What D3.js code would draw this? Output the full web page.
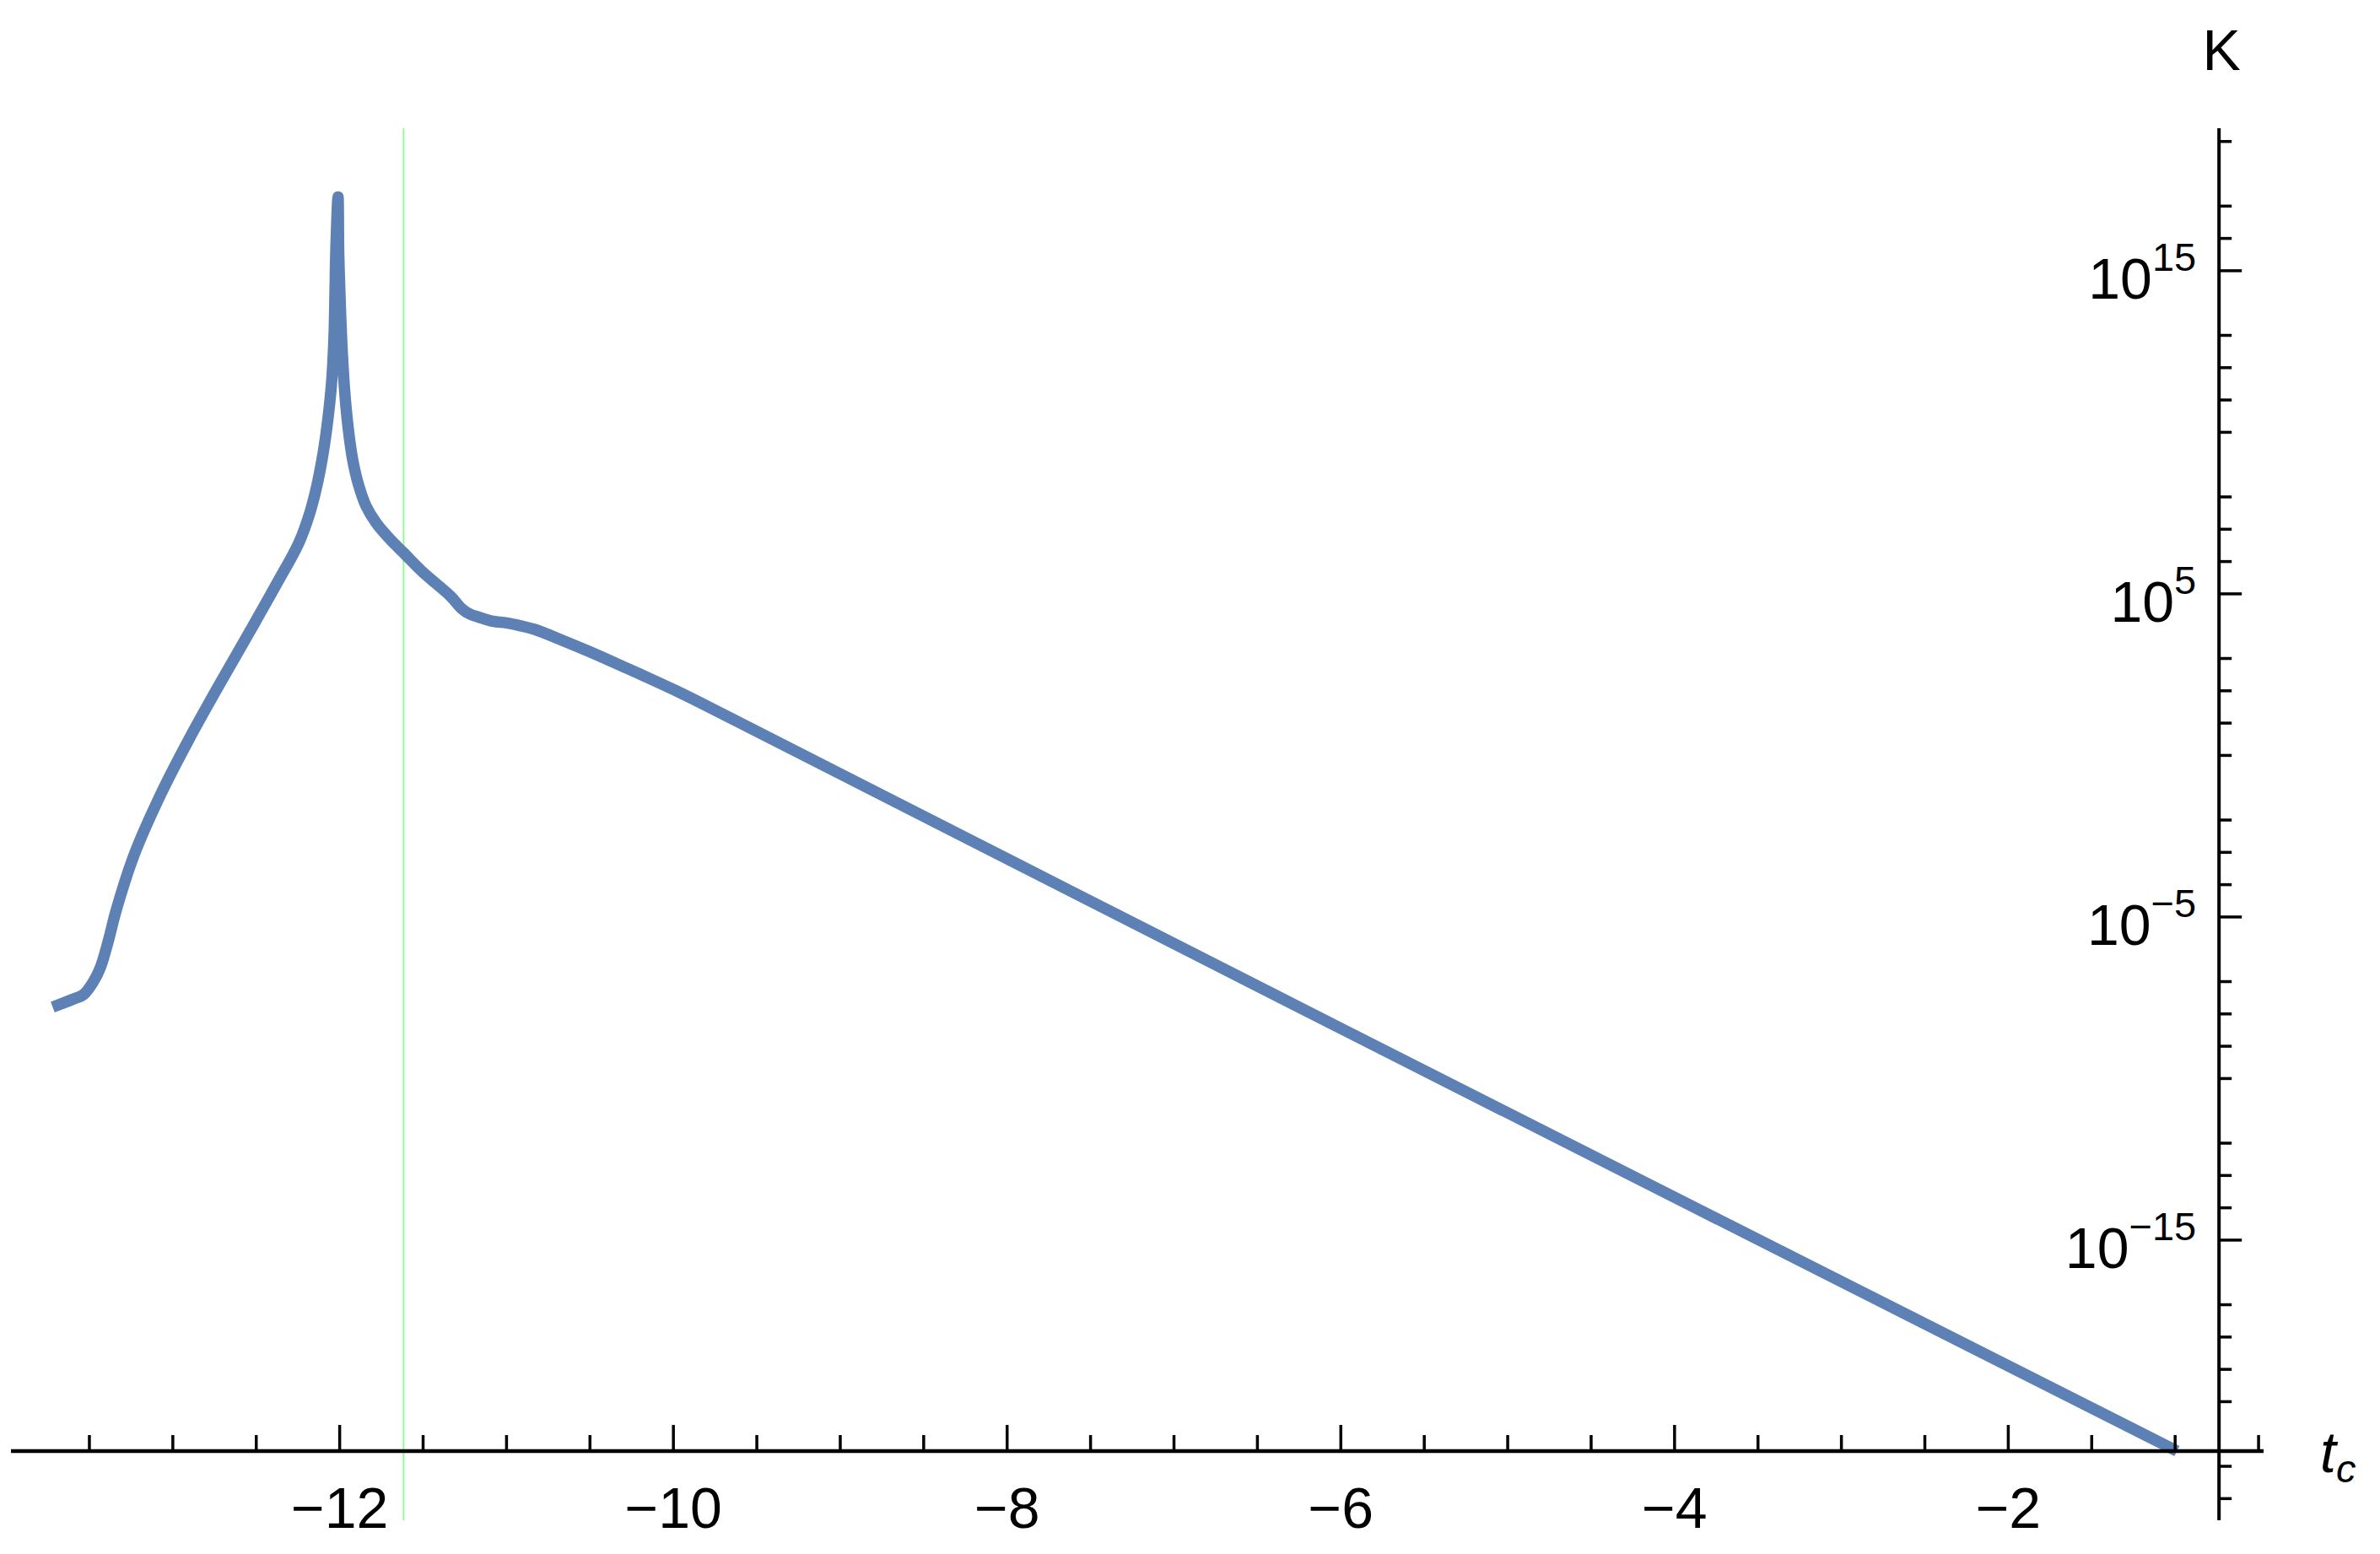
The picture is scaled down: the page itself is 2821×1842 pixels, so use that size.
<!DOCTYPE html>
<html>
<head>
<meta charset="utf-8">
<script src="https://cdn.jsdelivr.net/npm/d3@7"></script>
<style>
  body { margin: 0; background: #fff; }
  text { font-family: "Liberation Sans", Arial, sans-serif; fill: #000; }
</style>
</head>
<body>
<div class="vis-chart"></div>
<script>
// t_c values and log10(K)
var tValues = [-13.72, -13.60, -13.535, -13.476, -13.434, -13.384, -13.341, -13.232, -13.072, -12.903,
  -12.718, -12.537, -12.37, -12.243, -12.177, -12.137, -12.106, -12.081, -12.061, -12.046,
  -12.034, -12.028, -12.023, -12.01,
  -12.0056, -11.9955, -11.9838, -11.9676, -11.9474, -11.9221, -11.8867, -11.8412, -11.7806, -11.6946, -11.6188,
  -11.5075, -11.336, -11.268, -11.218, -11.167, -11.083, -11.0, -10.915, -10.832, -10.66,
  -10.493, -10.327, -9.988, -9.651, -6.0, -0.989];
var logK = [-7.79, -7.55, -7.40, -7.0, -6.56, -5.69, -4.82, -3.08, -1.20, 0.50,
  2.22, 3.85, 5.38, 6.60, 7.54, 8.34, 9.15, 9.99, 10.85, 11.71,
  12.94, 14.32, 15.63, 17.28,
  15.52, 13.82, 12.41, 11.11, 10.06, 9.15, 8.37, 7.71, 7.19, 6.67, 6.28,
  5.70, 4.93, 4.54, 4.37, 4.28, 4.15, 4.10, 4.01, 3.90, 3.55,
  3.19, 2.81, 2.01, 1.14, -8.45, -21.53];

var xMajor = [-12, -10, -8, -6, -4, -2];
var xMinor = [-13.5, -13, -12.5, -11.5, -11, -10.5, -9.5, -9, -8.5, -7.5, -7, -6.5,
  -5.5, -5, -4.5, -3.5, -3, -2.5, -1.5, -1, -0.5];
var yMajor = [15, 5, -5, -15];
var yMinor = [19, 17, 16, 13, 12, 11, 10, 8, 7, 6, 3, 2, 1, 0, -2, -3, -4,
  -7, -8, -9, -10, -12, -13, -14, -17, -18, -19, -20, -22, -23];

var marker_t = -11.617;   // thin green vertical line
var axis_t = -0.737;      // where the K axis crosses
var axis_logK = -21.53;   // where the t_c axis crosses

var W = 2821, H = 1842;
var blue = "#5e81b5";

var svg = d3.select(".vis-chart").append("svg")
  .attr("width", W)
  .attr("height", H);

svg.append("rect").attr("width", W).attr("height", H).attr("fill", "#fff");

var x = d3.scaleLinear().domain([-13.97, -0.47]).range([13, 2683]);
var y = d3.scaleLog().domain([Math.pow(10, -23.67), Math.pow(10, 19.41)]).range([1802, 152]);
var p = function(e) { return Math.pow(10, e); };

var x0 = x(axis_t), y0 = y(p(axis_logK));

// green marker line
svg.append("line")
  .attr("x1", x(marker_t)).attr("x2", x(marker_t))
  .attr("y1", y.range()[1]).attr("y2", y.range()[0])
  .attr("stroke", "#99f799")
  .attr("stroke-width", 2);

// curve
var pts = tValues.map(function(t, i) { return [t, logK[i]]; });
var line = d3.line()
  .x(function(d) { return x(d[0]); })
  .y(function(d) { return y(p(d[1])); })
  .curve(d3.curveCatmullRom.alpha(0.5));

svg.append("path")
  .datum(pts)
  .attr("d", line)
  .attr("fill", "none")
  .attr("stroke", blue)
  .attr("stroke-width", 13.5);

var axes = svg.append("g").attr("stroke", "#000");

// horizontal axis
axes.append("line")
  .attr("x1", x.range()[0]).attr("x2", x.range()[1])
  .attr("y1", y0).attr("y2", y0)
  .attr("stroke-width", 4.5);

axes.selectAll(".xmaj").data(xMajor).enter().append("line")
  .attr("x1", function(d) { return x(d); }).attr("x2", function(d) { return x(d); })
  .attr("y1", y0).attr("y2", y0 - 31)
  .attr("stroke-width", 3.5);

axes.selectAll(".xmin").data(xMinor).enter().append("line")
  .attr("x1", function(d) { return x(d); }).attr("x2", function(d) { return x(d); })
  .attr("y1", y0).attr("y2", y0 - 19)
  .attr("stroke-width", 3.5);

// vertical axis
axes.append("line")
  .attr("x1", x0).attr("x2", x0)
  .attr("y1", y.range()[1]).attr("y2", y.range()[0])
  .attr("stroke-width", 4);

axes.selectAll(".ymaj").data(yMajor).enter().append("line")
  .attr("x1", x0).attr("x2", x0 + 27)
  .attr("y1", function(d) { return y(p(d)); }).attr("y2", function(d) { return y(p(d)); })
  .attr("stroke-width", 3.5);

axes.selectAll(".ymin").data(yMinor).enter().append("line")
  .attr("x1", x0).attr("x2", x0 + 15)
  .attr("y1", function(d) { return y(p(d)); }).attr("y2", function(d) { return y(p(d)); })
  .attr("stroke-width", 3.5);

function minus(n) { return n < 0 ? "\u2212" + Math.abs(n) : "" + n; }

// tick labels
svg.selectAll(".xlab").data(xMajor).enter().append("text")
  .attr("x", function(d) { return x(d); })
  .attr("y", y0 + 91)
  .attr("text-anchor", "middle")
  .attr("font-size", 68)
  .text(minus);

var ylab = svg.selectAll(".ylab").data(yMajor).enter().append("text")
  .attr("x", x0 - 27)
  .attr("y", function(d) { return y(p(d)) + 33; })
  .attr("text-anchor", "end")
  .attr("font-size", 68);
ylab.append("tspan").text("10");
ylab.append("tspan").attr("dy", -33).attr("font-size", 47).text(minus);

// axis titles
svg.append("text")
  .attr("x", x0 + 3).attr("y", 83)
  .attr("text-anchor", "middle")
  .attr("font-size", 68)
  .text("K");

var tl = svg.append("text")
  .attr("x", 2750).attr("y", y0 + 25)
  .attr("font-size", 68)
  .attr("font-style", "italic");
tl.append("tspan").text("t");
tl.append("tspan").attr("dy", 12).attr("font-size", 47).text("c");
</script>
</body>
</html>
